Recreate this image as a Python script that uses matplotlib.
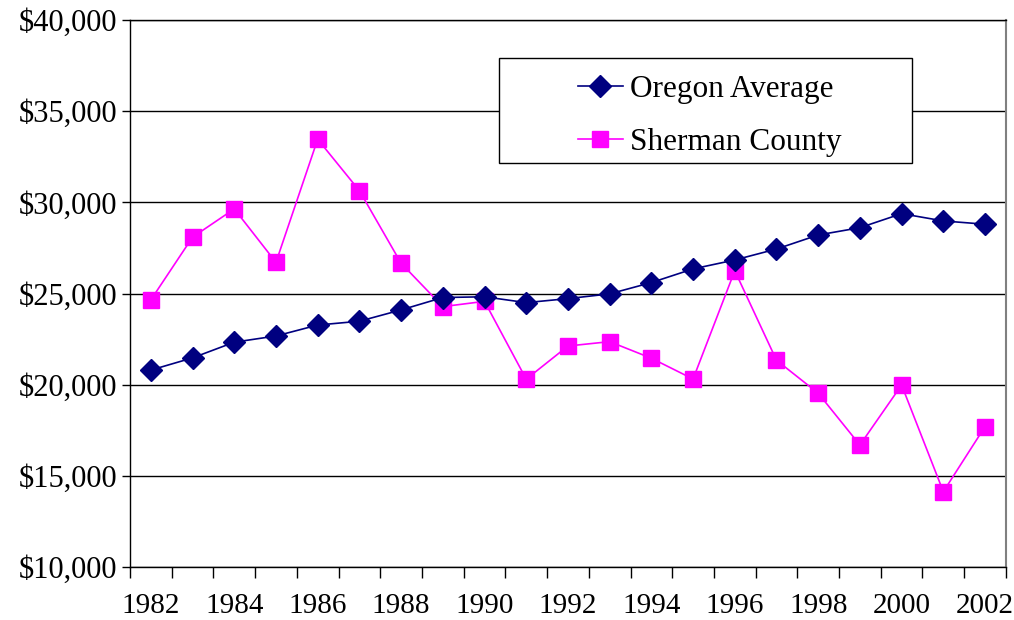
import matplotlib

matplotlib.use("Agg")
import matplotlib.pyplot as plt  # noqa: E402
from matplotlib.patches import Rectangle  # noqa: E402
from matplotlib.ticker import FuncFormatter, FixedLocator  # noqa: E402

years = list(range(1982, 2003))
oregon = [20800, 21470, 22330, 22670, 23270, 23480, 24100, 24780, 24820, 24500,
          24720, 24980, 25600, 26350, 26840, 27440, 28210, 28610, 29380, 28980, 28800]
sherman = [24650, 28090, 29640, 26710, 33460, 30640, 26660, 24280, 24570, 20300,
           22120, 22360, 21450, 20310, 26250, 21340, 19530, 16690, 19980, 14130, 17700]

C_OR = "#000080"
C_SH = "#ff00ff"

plt.rcParams.update({"font.family": ["Liberation Serif", "DejaVu Serif"]})

fig = plt.figure(figsize=(10.14, 6.2), dpi=100)
ax = fig.add_axes([0.1282, 0.0855, 0.8638, 0.8822])

x = list(range(len(years)))
ax.plot(x, oregon, color=C_OR, lw=1.2, marker="D", ms=11, mec=C_OR, mfc=C_OR,
        label="Oregon Average", zorder=4)
ax.plot(x, sherman, color=C_SH, lw=1.2, marker="s", ms=12, mec=C_SH, mfc=C_SH,
        label="Sherman County", zorder=3)

ax.set_xlim(-0.5, len(years) - 0.5)
ax.set_ylim(10000, 40000)
ax.set_yticks(range(10000, 40001, 5000))
ax.yaxis.set_major_formatter(FuncFormatter(lambda v, _: f"${v:,.0f}"))
ax.yaxis.grid(True, color="black", lw=1.0)
ax.set_axisbelow(True)

# category axis: tick marks between categories, labels every other year
ax.xaxis.set_major_locator(FixedLocator([i - 0.5 for i in range(len(years) + 1)]))
ax.xaxis.set_major_formatter(FuncFormatter(lambda v, _: ""))
ax.set_xticks(x[::2], minor=True)
ax.set_xticklabels([str(y) for y in years[::2]], minor=True)
ax.tick_params(axis="x", which="minor", length=0, pad=19, labelsize=21)
ax.tick_params(axis="x", which="major", direction="out", length=8, width=1.0)
ax.tick_params(axis="y", direction="out", length=6, width=1.0, labelsize=22, pad=3)

for s in ("left", "bottom", "top"):
    ax.spines[s].set_color("black")
    ax.spines[s].set_linewidth(1.0)
ax.spines["right"].set_color("#808080")
ax.spines["right"].set_linewidth(1.5)

# legend box (frame drawn separately so the entries can sit right of centre)
ax.add_patch(Rectangle((0.421, 0.7386), 0.472, 0.192, transform=ax.transAxes,
                       fc="white", ec="black", lw=1.0, zorder=9))
leg = ax.legend(loc="upper left", bbox_to_anchor=(0.511, 0.899),
                fontsize=22.5, frameon=False, borderpad=0, labelspacing=0.76,
                handlelength=1.45, handletextpad=0.22, borderaxespad=0)
leg.set_zorder(10)

fig.savefig("out.png", dpi=100, facecolor="white")
